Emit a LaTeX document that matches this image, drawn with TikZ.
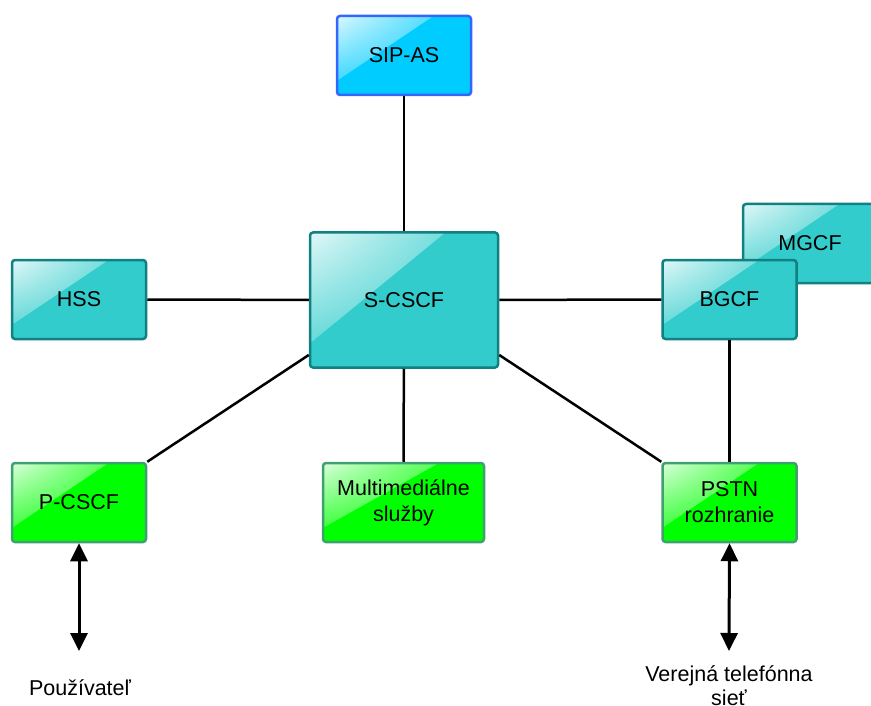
\documentclass[tikz,border=0pt]{standalone}
\usepackage{fontspec}
\setmainfont{Liberation Sans}
\usetikzlibrary{arrows.meta,calc,shadings}
\definecolor{tealfill}{RGB}{51,204,204}
\definecolor{tealline}{RGB}{16,128,128}
\definecolor{bluefill}{RGB}{0,204,255}
\definecolor{blueline}{RGB}{51,102,255}
\definecolor{greenfill}{RGB}{0,255,0}
\definecolor{greenline}{RGB}{64,160,112}

\begin{document}
\begin{tikzpicture}[x=1pt,y=-1pt,
  box/.style={draw=#1line, fill=#1fill, line width=2.5pt, rounded corners=3pt,
    minimum width=134pt, minimum height=79pt, inner sep=2pt, align=center,
    font=\fontsize{21.5}{26}\selectfont,
    path picture={\shade[sharp corners, upper left=white!85!#1fill,
      upper right=#1fill!88!white, lower left=#1fill!88!white, lower right=#1fill]
      (path picture bounding box.north west)
      -- ($(path picture bounding box.north west)!0.72!(path picture bounding box.north east)$)
      -- ($(path picture bounding box.north west)!0.82!(path picture bounding box.south west)$) -- cycle;}},
  link/.style={line width=2.5pt},
  io/.style={line width=3pt, {Triangle[width=17pt,length=18pt]}-{Triangle[width=17pt,length=18pt]}},
  lbl/.style={align=center, font=\fontsize{21.5}{24}\selectfont}]
  \useasboundingbox (0,0) rectangle (871,706);
  % boxes
  \node[box=blue] (sipas) at (404,55.5) {SIP-AS};
  \node[box=teal, minimum width=188pt, minimum height=135pt] (scscf) at (404,300) {S-CSCF};
  \node[box=teal] (hss) at (79,299.5) {HSS};
  \node[box=teal] (mgcf) at (810,243.5) {MGCF};
  \node[box=teal] (bgcf) at (729.5,299.5) {BGCF};
  \node[box=green] (pcscf) at (79,502.5) {P-CSCF};
  \node[box=green, minimum width=161pt] (mm) at (403.5,502.5) {Multimediálne\\služby};
  \node[box=green] (pstn) at (729.5,502.5) {PSTN\\rozhranie};
  % links
  \draw[link] (sipas) -- (scscf);
  \draw[link] (hss) -- (scscf);
  \draw[link] (scscf) -- (bgcf);
  \draw[link] (scscf) -- (mm);
  \draw[link] (bgcf) -- (pstn);
  \draw[link] (pcscf.north east) -- (scscf.210);
  \draw[link] (scscf.330) -- (pstn.north west);
  % outside
  \node[lbl] (user) at (80,688) {Používateľ};
  \node[lbl] (pstnnet) at (729,686) {Verejná telefónna\\sieť};
  \coordinate (userend) at (79,651);
  \coordinate (pstnend) at (729,651);
  \draw[io] (pcscf.south) -- (userend);
  \draw[io] (pstn.south) -- (pstnend);
\end{tikzpicture}
\end{document}
